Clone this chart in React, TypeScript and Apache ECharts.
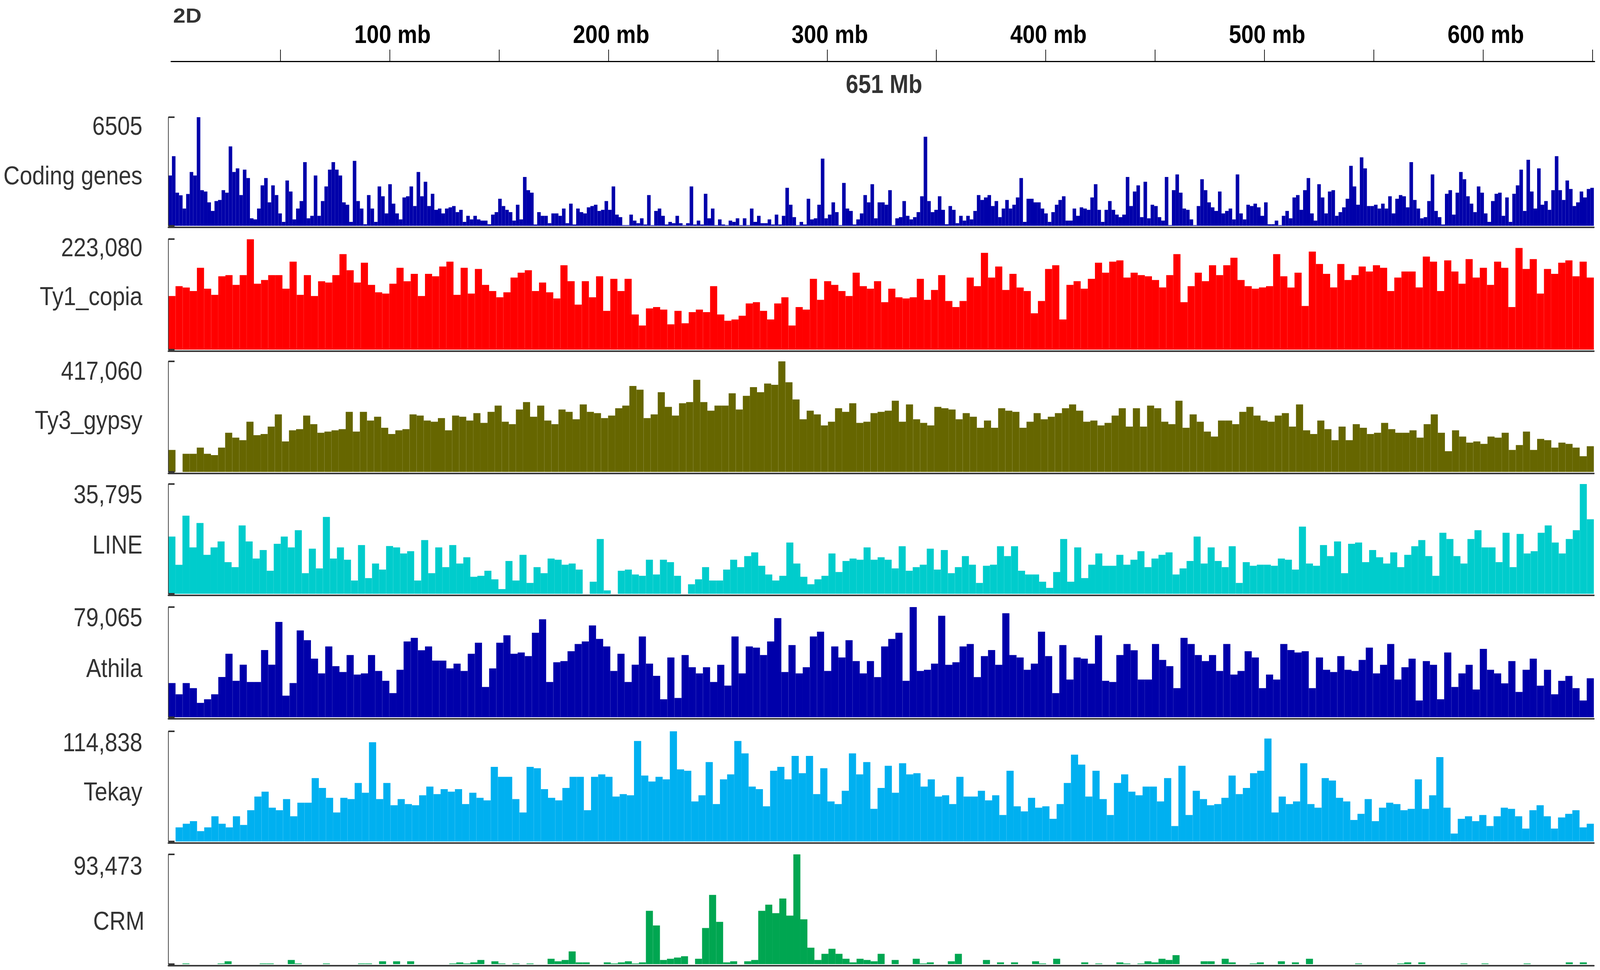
import React, { useEffect, useRef } from "react";
import * as echarts from "echarts";

// ---------- DATA ----------
const chromosomeName = "2D";
const chromosomeLengthMb = 651;
const rulerTicksMb = [50, 100, 150, 200, 250, 300, 350, 400, 450, 500, 550, 600, 650];
const rulerLabelsMb = [100, 200, 300, 400, 500, 600];

const trackNames = ["Coding genes", "Ty1_copia", "Ty3_gypsy", "LINE", "Athila", "Tekay", "CRM"];
const trackMaxValues = [6505, 223080, 417060, 35795, 79065, 114838, 93473];
const trackMaxLabels = ["6505", "223,080", "417,060", "35,795", "79,065", "114,838", "93,473"];

const codingGenes = [
  3012, 4170, 1984, 1828, 1034, 1906, 3226, 3012, 6505, 2134,
  2056, 1405, 891, 1483, 1548, 2134, 1984, 4755, 3226, 3441,
  1841, 3363, 2862, 449, 384, 1034, 2420, 2862, 1405, 2420,
  1841, 742, 234, 2713, 2056, 384, 1034, 1483, 3812, 449,
  598, 3012, 598, 1483, 2355, 3363, 3812, 3363, 3012, 1405,
  1262, 234, 3890, 1483, 1034, 91, 1841, 1034, 234, 2355,
  1769, 742, 2491, 1327, 742, 384, 1698, 1769, 2355, 1184,
  3226, 1769, 2641, 1184, 1919, 956, 1034, 742, 1034, 1106,
  1184, 820, 956, 234, 598, 384, 598, 384, 312, 312,
  91, 670, 820, 1620, 1184, 956, 820, 312, 1262, 384,
  2927, 2134, 1984, 78, 820, 598, 598, 156, 742, 742,
  598, 1034, 156, 1327, 78, 1034, 820, 742, 1106, 1184,
  1262, 891, 956, 1483, 956, 2355, 670, 520, 39, 39,
  670, 312, 156, 449, 78, 1841, 39, 891, 1034, 598,
  78, 234, 156, 598, 156, 39, 156, 2355, 78, 312,
  78, 1919, 449, 1034, 39, 384, 78, 39, 312, 234,
  449, 39, 449, 39, 1034, 234, 598, 156, 156, 384,
  78, 670, 78, 598, 2277, 1262, 520, 39, 234, 78,
  1620, 384, 449, 1262, 4027, 449, 670, 1405, 820, 39,
  2569, 1034, 891, 78, 384, 742, 1841, 1405, 2491, 449,
  1405, 1405, 1262, 2134,
  39, 449, 520, 1483, 598, 384, 520, 820, 1769, 5334,
  1483, 820, 956, 1769, 956, 91, 1184, 956, 156, 598,
  312, 598, 384, 891, 1841, 1548, 1698, 1841, 1184, 1483,
  520, 1034, 1548, 1034, 1262, 1698, 2862, 234, 1620, 1620,
  1405, 1405, 1034, 742, 234, 820, 1262, 1548, 1769, 312,
  312, 1034, 598, 1106, 1034, 956, 1698, 2491, 956, 234,
  956, 1483, 956, 670, 520, 670, 2927, 1184, 2056, 2420,
  520, 2641, 449, 1262, 1184, 520, 312, 2927, 39, 2134,
  3077, 1984, 1034, 956, 384, 39, 1184, 2791, 2134, 1405,
  1106, 891, 2056, 742, 891, 1034, 384, 3077, 742, 384,
  1262, 1184, 1327, 1106, 598, 1405, 91, 91, 312, 39,
  598, 891, 449, 1698, 1841, 956, 2134, 2862, 742, 312,
  2491, 1698, 742, 2056, 2134, 598, 820, 1106, 1620, 3591,
  2355, 1262, 4098, 3441, 1184, 1184, 1262, 1034, 1327, 1034,
  1769, 742, 1620, 1841, 1769, 1106, 3812, 1548, 1034, 449,
  520, 1483, 3077, 891, 520, 78, 1919, 2134, 670, 1984,
  3226, 2791, 1769, 1327, 820, 2355, 1984, 742, 234, 1483,
  1919, 1984, 598, 1698, 234, 1919, 2420, 3363, 891, 3955,
  2056, 1034, 3441, 1262, 1483, 956, 2134, 4170, 2134, 1548,
  2713, 2205, 1184, 1405, 2056, 1698, 2205, 2277,
];

const ty1Copia = [
  108200, 128000, 125400, 118200, 165100, 122900, 110600, 147900, 150400, 130700,
  150400, 222600, 133000, 140500, 150400, 150400, 122900, 177600, 110600, 150400,
  108200, 137900, 135400, 150400, 192700, 160200, 135400, 175300, 130700, 115600,
  113100, 133000, 165100, 137900, 153000, 108200, 153000, 147900, 167800, 177600,
  110600, 165100, 113100, 162800, 130700, 118200, 105700, 115600, 145400, 155300,
  160200, 118200, 135400, 115600, 103300, 170200, 138100, 90800, 138100, 105700,
  147900, 78300, 142800, 118200, 142800, 70900, 48600, 83200, 85900, 80800,
  51100, 78300, 53300, 75600, 80800, 75600, 128000, 70900, 58400, 60900,
  68300, 93200, 95700, 78300, 60900, 93200, 105700, 48600, 85900, 80800,
  142800, 100600, 138100, 130700, 118200, 108200, 155300, 128000, 122900, 138100,
  95700, 122900, 105700, 103300, 105700, 142800, 100600, 120500, 150400, 98200,
  85900, 98200, 145400, 128000, 195200, 145400, 167800, 120500, 153000, 125400,
  118200, 73400, 98200, 162800, 170200, 60900, 130700, 138100, 122900, 142800,
  175300, 155300, 177600, 180200, 145400, 155300, 150400, 147900, 140500, 125600,
  150400, 192700, 95700, 128000, 155300, 138100, 170200, 150400, 170200, 185400,
  140500, 128000, 122900, 125600, 128000, 192700, 147900, 125400, 155300, 88100,
  197900, 172900, 153000, 125600, 172900, 140500, 150400, 167800, 157700, 170200,
  165100, 118200, 145400, 157700, 157700, 125600, 187800, 177600, 118200, 180200,
  157700, 133000, 182700, 145400, 165100, 130700, 177600, 165100, 85900, 205200,
  162800, 182700, 113100, 162800, 153000, 175300, 180200, 147900, 177600, 145400,
];

const ty3Gypsy = [
  83000, 0, 68400, 68400, 91800, 68400, 63400, 91800, 147600, 129300,
  119700, 189300, 138500, 143100, 171000, 216900, 115100, 156800, 161400, 212700,
  180200, 147600, 152200, 156800, 161400, 226500, 152200, 226500, 193900, 208100,
  166400, 143100, 156800, 161400, 216900, 212700, 193900, 189300, 203100, 156800,
  212700, 208100, 193900, 221900, 184800, 226500, 250200, 189300, 180200, 235600,
  263600, 208100, 250200, 193900, 180200, 235600, 226500, 198500, 254400, 226500,
  221900, 203100, 212700, 240200, 250200, 324100, 310300, 203100, 216900, 300700,
  245200, 212700, 259000, 263600, 347400, 263600, 231100, 250200, 250200, 296500,
  235600, 286900, 319900, 300700, 333600, 328600, 417060, 338200, 273200, 198500,
  231100, 216900, 175200, 189300, 240200, 226500, 259000, 184800, 189300, 221900,
  226500, 231100, 268600, 189300, 254400, 198500, 184800, 175200, 245200, 240200,
  235600, 198500, 221900, 208100, 166400, 193900, 166400, 240200, 231100, 226500,
  166400, 189300, 221900, 198500, 208100, 221900, 240200, 254400, 231100, 189300,
  193900, 175200, 184800, 212700, 240200, 171000, 240200, 171000, 250200, 240200,
  189300, 180200, 268600, 166400, 216900, 189300, 152200, 133500, 193900, 193900,
  180200, 226500, 245200, 212700, 193900, 189300, 212700, 221900, 171000, 254400,
  156800, 143100, 193900, 161400, 119700, 171000, 119700, 180200, 166400, 143100,
  147600, 184800, 161400, 147600, 147600, 156800, 129300, 180200, 216900, 147600,
  78000, 156800, 133500, 110500, 115100, 105900, 133500, 129300, 147600, 83000,
  101300, 152200, 83000, 124700, 119700, 91800, 110500, 105900, 91800, 59200,
  96800,
];

const lineElements = [
  18650, 9450, 25490, 15140, 23090, 12710, 15140, 17070, 10310, 8700,
  22300, 17070, 11490, 14280, 7520, 16320, 18650, 15140, 20730, 6730,
  14710, 8270, 25060, 11490, 15140, 11130, 4330, 15890, 5120, 9880,
  7910, 15570, 15140, 13140, 13890, 4330, 17500, 6730, 15140, 8700,
  15890, 9880, 11920, 5550, 5870, 7520, 4720, 1540, 10700, 4330,
  12710, 3540, 8700, 6730, 11490, 11130, 9490, 9880, 7910, 0,
  3940, 17860, 1110, 0, 7520, 7910, 6300, 5870, 11130, 6300,
  11130, 10310, 5870, 0, 3110, 4720, 8700, 4330, 4330, 7910,
  11130, 8700, 12280, 13490, 9130, 6300, 4330, 5870, 16720, 9880,
  5550, 3110, 4720, 5870, 13140, 7090, 10700, 11490, 11130, 15140,
  11130, 11920, 11130, 8270, 15500, 7520, 8700, 9490, 14710, 7910,
  14280, 6730, 8700, 12280, 9490, 3540, 9130, 9490, 15500, 12280,
  15500, 7520, 6300, 6300, 3940, 1930, 7090, 17860, 3940, 15140,
  5120, 9490, 13140, 9130, 9130, 12710, 9490, 11130, 13890, 8700,
  11490, 12710, 13490, 6300, 8270, 10700, 18650, 9880, 15140, 10700,
  8700, 15500, 3540, 10310, 9130, 9490, 9490, 9130, 11490, 11130,
  7910, 21910, 9880, 9130, 15890, 12280, 17070, 6730, 16320, 16720,
  10310, 14280, 11920, 9880, 13490, 8700, 12710, 15500, 17500, 12280,
  5870, 19900, 17860, 12280, 9880, 17860, 20730, 15140, 15140, 10310,
  19900, 8700, 19510, 13140, 13890, 19900, 22300, 16720, 13140, 17860,
  20730, 35795, 24300,
];

const athila = [
  24510, 16450, 24510, 20870, 10280, 12890, 16450, 28860, 45540, 26170,
  37710, 25300, 25300, 48230, 37710, 68390, 15500, 24510, 62300, 55270,
  42060, 31470, 50840, 36690, 32420, 44670, 30600, 31470, 44670, 33210,
  26170, 17310, 34080, 54400, 57010, 48070, 50840, 40640, 40640, 35030,
  38500, 33210, 45540, 53450, 21740, 35030, 53450, 58820, 45540, 46490,
  43880, 60640, 70290, 25300, 39450, 40320, 47360, 52580, 54400, 65860,
  56220, 50840, 33210, 45540, 25300, 37710, 57950, 38500, 29730, 12890,
  42930, 13840, 44670, 35900, 31470, 35900, 25300, 37630, 22690, 57950,
  31470, 50840, 49970, 44670, 54400, 71160, 32420, 51790, 31470, 35900,
  57950, 61430, 33210, 50840, 42930, 55270, 40320, 31470, 40320, 28780,
  50840, 56220, 60640, 26170, 79065, 33210, 34080, 38500, 72820, 37630,
  39450, 50840, 52580, 28780, 43880, 48230, 37630, 74640, 44670, 42930,
  34080, 38500, 61430, 43880, 17310, 51790, 27040, 42930, 42060, 38500,
  58820, 26170, 25300, 44670, 52580, 48070, 27040, 27040, 52580, 41110,
  36690, 20870, 57010, 52580, 44670, 40320, 44670, 33210, 52580, 30600,
  33210, 47360, 42930, 20870, 30600, 27040, 52580, 48230, 46490, 47360,
  20870, 42930, 34080, 32420, 43880, 34080, 33210, 41110, 49970, 31470,
  37630, 52580, 27040, 35900, 42060, 12020, 40320, 37630, 12890, 46490,
  21740, 31470, 37630, 19920, 49100, 34080, 31470, 24350, 40320, 18180,
  34080, 42060, 22610, 34080, 16450, 26170, 29650, 20870, 12020, 27990,
];

const tekay = [
  0, 14700, 18490, 21130, 10790, 14700, 26300, 18490, 14700, 26300,
  17230, 32610, 46850, 51910, 35260, 32610, 44210, 26300, 40420, 40420,
  66030, 55810, 45480, 30200, 45480, 44210, 60980, 50760, 103470, 44210,
  60980, 37780, 44210, 39040, 37780, 48120, 57190, 49380, 54550, 51910,
  54550, 39040, 50760, 45480, 42830, 77740, 67410, 67410, 44210, 30200,
  77740, 76370, 54550, 45480, 42830, 55810, 67410, 67410, 32610, 67410,
  69940, 67410, 46850, 49380, 48120, 104730, 68670, 62470, 67410, 64770,
  114838, 75100, 73730, 41690, 48120, 82800, 39040, 64770, 69940, 104730,
  91870, 57190, 54550, 36630, 73730, 77740, 64770, 89230, 71200, 89230,
  49380, 76370, 41690, 39040, 52830, 91870, 69940, 82800, 33990, 55810,
  78890, 50760, 81530, 69940, 71200, 57190, 64770, 46850, 48120, 39040,
  67410, 46850, 46850, 52830, 42830, 48120, 27560, 73730, 36630, 31350,
  45480, 35260, 36630, 23660, 39040, 60980, 90490, 80160, 46850, 73730,
  44210, 27560, 60980, 69940, 51910, 48120, 57190, 57190, 41690, 66030,
  16080, 78890, 27560, 52830, 44210, 37780, 39040, 45480, 68670, 49380,
  55810, 71200, 73730, 107260, 30200, 46850, 39040, 41690, 81530, 39040,
  35260, 66030, 63500, 45480, 41690, 22390, 28820, 44210, 21130, 35260,
  40420, 39040, 32610, 33990, 64770, 33990, 48120, 87970, 35260, 8270,
  23660, 26300, 21130, 27560, 16080, 26300, 35260, 33990, 26300, 13440,
  32610, 37780, 26300, 13440, 25030, 28820, 32610, 14700, 18490,
];

const crm = [
  0, 0, 560, 0, 0, 0, 0, 560, 2430, 0,
  0, 0, 0, 560, 560, 0, 0, 3550, 560, 0,
  0, 0, 560, 0, 0, 0, 0, 560, 560, 0,
  2430, 0, 2430, 0, 2430, 0, 0, 0, 0, 0,
  560, 1500, 560, 1500, 3550, 0, 2430, 560, 0, 560,
  0, 560, 0, 0, 4580, 2430, 3550, 10840, 1500, 1500,
  0, 0, 1500, 560, 1500, 2430, 560, 1500, 45430, 32900,
  3550, 4580, 5600, 6730, 0, 4580, 30750, 58980, 35990, 1500,
  2430, 0, 2430, 3550, 45430, 50660, 43370, 55900, 41320, 93473,
  38140, 14020, 3550, 8790, 13090, 8790, 4580, 1500, 4580, 3550,
  2430, 8790, 0, 3550, 0, 0, 4580, 560, 1500, 0,
  0, 2430, 8790, 0, 0, 0, 3550, 0, 1500, 0,
  1500, 0, 0, 2430, 560, 0, 4580, 0, 0, 0,
  1500, 0, 560, 0, 0, 1500, 560, 0, 560, 2430,
  1500, 4580, 3550, 7660, 0, 0, 0, 2430, 2430, 0,
  4580, 1500, 0, 0, 560, 1500, 0, 0, 2430, 0,
  1500, 0, 4580, 0, 0, 0, 0, 0, 0, 560,
  0, 0, 0, 0, 0, 560, 1500, 0, 1500, 0,
  0, 0, 0, 0, 560, 0, 0, 560, 0, 0,
  0, 0, 0, 560, 0, 0, 0, 0, 0, 1500,
  0, 1500, 0,
];

const trackSeries = [codingGenes, ty1Copia, ty3Gypsy, lineElements, athila, tekay, crm];

// ---------- STYLE / LAYOUT (reference pixel space 4684 x 2483) ----------
const W = 4684;
const H = 2483;
const FONT = '"Liberation Sans", Arial, Helvetica, sans-serif';
const trackColors = ["#0000AA", "#FF0000", "#666600", "#00CCCC", "#0000AA", "#00B0F0", "#00A651"];
const trackTops = [300, 612, 925, 1239, 1554, 1872, 2187];
const trackBottoms = [578, 895, 1208, 1520, 1836, 2154, 2468];
const valueLabelY = [322, 633, 949, 1265, 1580, 1900, 2216];
const nameLabelY = [449, 758, 1075, 1394, 1710, 2026, 2357];
const nameLabelRight = [417, 417, 417, 417, 417, 417, 423];
const plotLeft = 493;
const plotRight = 4666;
const rulerLeft = 501;
const rulerRight = 4668;
const rulerY = 157;

function buildOption(sx: number, sy: number): any {
  const grids: any[] = [];
  const xAxes: any[] = [];
  const yAxes: any[] = [];
  const series: any[] = [];

  trackSeries.forEach((data, i) => {
    grids.push({
      left: plotLeft * sx,
      width: (plotRight - plotLeft) * sx,
      top: trackTops[i] * sy,
      height: (trackBottoms[i] - trackTops[i]) * sy,
    });
    xAxes.push({
      type: "category",
      gridIndex: i,
      boundaryGap: true,
      offset: 4 * sy,
      z: 5,
      axisLine: { show: true, onZero: false, lineStyle: { color: "#3a3a3a", width: 4 * sy } },
      axisTick: { show: false },
      axisLabel: { show: false },
      splitLine: { show: false },
    });
    yAxes.push({
      type: "value",
      gridIndex: i,
      min: 0,
      max: trackMaxValues[i],
      interval: trackMaxValues[i],
      z: 5,
      axisLine: { show: true, lineStyle: { color: "#333333", width: 2 * sx } },
      axisTick: {
        show: true,
        inside: true,
        length: 18 * sx,
        lineStyle: { color: "#333333", width: 4 * sy },
      },
      axisLabel: { show: false },
      splitLine: { show: false },
    });
    series.push({
      type: "bar",
      xAxisIndex: i,
      yAxisIndex: i,
      data,
      barCategoryGap: "0%",
      barGap: "0%",
      silent: true,
      itemStyle: { color: trackColors[i] },
    });
  });

  const r = trackSeries.length;
  grids.push({
    left: rulerLeft * sx,
    width: (rulerRight - rulerLeft) * sx,
    top: rulerY * sy,
    height: 10,
  });
  xAxes.push({
    type: "value",
    gridIndex: r,
    position: "top",
    min: 0,
    max: chromosomeLengthMb,
    axisLine: { show: true, onZero: false, lineStyle: { color: "#000000", width: 3 * sy } },
    axisTick: {
      show: true,
      customValues: rulerTicksMb,
      length: 30 * sy,
      lineStyle: { color: "#000000", width: 2 * sx },
    },
    axisLabel: { show: false },
    splitLine: { show: false },
  });
  yAxes.push({ type: "value", gridIndex: r, show: false });

  return {
    animation: false,
    backgroundColor: "#ffffff",
    grid: grids,
    xAxis: xAxes,
    yAxis: yAxes,
    series,
  };
}

function textEl(
  x: number,
  y: number,
  text: string,
  size: number,
  bold: boolean,
  fill: string,
  align: string,
  sx: number,
  sy: number,
  extraScaleX = 1
): any {
  return {
    type: "text",
    x,
    y,
    scaleX: (sx / sy) * extraScaleX,
    style: {
      text,
      font: `${bold ? "bold " : ""}${Math.round(size * sy)}px ${FONT}`,
      fill,
      align,
      verticalAlign: "middle",
    },
  };
}

export default function App() {
  const ref = useRef<HTMLDivElement>(null);
  const vw = typeof window !== "undefined" ? Math.min(window.innerWidth || W, 4096, W) : W;
  const vh = typeof window !== "undefined" ? Math.min(window.innerHeight || H, H) : H;

  useEffect(() => {
    document.body.style.margin = "0";
    document.body.style.overflow = "hidden";
    if (!ref.current) return;
    const sx = vw / W;
    const sy = vh / H;
    const chart = echarts.init(ref.current, undefined, { renderer: "svg", width: vw, height: vh });
    chart.setOption(buildOption(sx, sy));

    const r = trackSeries.length;
    const graphics: any[] = [
      textEl(507 * sx, 40 * sy, chromosomeName, 52, true, "#333333", "left", sx, sy, 1.25),
      textEl(2588 * sx, 215 * sy, `${chromosomeLengthMb} Mb`, 66, true, "#333333", "center", sx, sy),
    ];
    rulerLabelsMb.forEach((mb) => {
      const px = chart.convertToPixel({ xAxisIndex: r }, mb) as number;
      graphics.push(textEl(px + 8 * sx, 88 * sy, `${mb} mb`, 65, true, "#000000", "center", sx, sy));
    });
    trackNames.forEach((name, i) => {
      graphics.push(textEl(417 * sx, valueLabelY[i] * sy, trackMaxLabels[i], 66, false, "#333333", "right", sx, sy));
      graphics.push(textEl(nameLabelRight[i] * sx, nameLabelY[i] * sy, name, 66, false, "#333333", "right", sx, sy));
    });
    chart.setOption({ graphic: graphics });

    return () => {
      chart.dispose();
    };
  }, []);

  return (
    <div
      ref={ref}
      style={{ position: "absolute", left: 0, top: 0, width: vw, height: vh, background: "#ffffff" }}
    />
  );
}
